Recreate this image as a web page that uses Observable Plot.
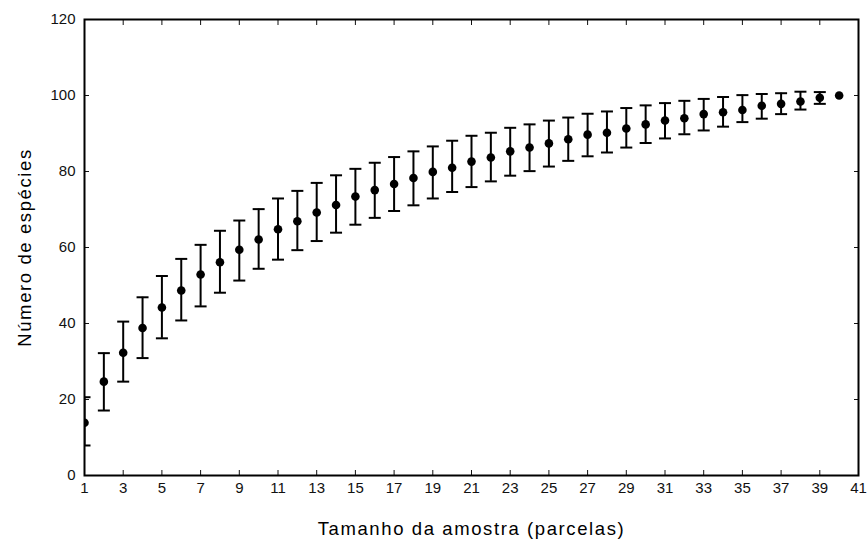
<!DOCTYPE html>
<html>
<head>
<meta charset="utf-8">
<script src="https://cdn.jsdelivr.net/npm/d3@7"></script>
<script src="https://cdn.jsdelivr.net/npm/@observablehq/plot@0.6"></script>
<style>
  body { margin: 0; background: #fff; }
  #chart svg g[aria-label="text"] text { letter-spacing: 1.6px; }
</style>
</head>
<body>
<div id="chart"></div>
<script>
// Sample size (number of plots)
const sampleSize = [1,2,3,4,5,6,7,8,9,10,11,12,13,14,15,16,17,18,19,20,
                    21,22,23,24,25,26,27,28,29,30,31,32,33,34,35,36,37,38,39,40];
// Mean number of species
const meanSpecies = [13.9,24.7,32.3,38.8,44.2,48.7,52.9,56.1,59.4,62.1,
                     64.8,66.9,69.2,71.2,73.4,75.1,76.7,78.3,79.9,81.0,
                     82.6,83.7,85.3,86.3,87.4,88.5,89.7,90.2,91.3,92.4,
                     93.4,94.0,95.1,95.6,96.2,97.3,97.8,98.4,99.4,100];
// Upper and lower error limits
const upperSpecies = [20.6,32.2,40.5,46.9,52.5,57.0,60.7,64.4,67.1,70.1,
                      72.9,74.9,77.0,79.0,80.7,82.3,83.8,85.3,86.6,88.1,
                      89.4,90.2,91.5,92.4,93.4,94.2,95.2,95.8,96.7,97.4,
                      98.0,98.6,99.1,99.6,100.1,100.4,100.6,101.0,100.9,100];
const lowerSpecies = [7.9,17.1,24.7,30.9,36.1,40.8,44.5,48.1,51.3,54.4,
                      56.8,59.3,61.7,63.9,66.0,67.8,69.6,71.1,72.9,74.6,
                      75.9,77.4,78.9,80.1,81.3,82.8,84.0,85.0,86.3,87.5,
                      88.7,89.8,90.8,91.8,93.0,93.9,95.1,96.3,97.8,100];
// Tick values
const xTicks = [1,3,5,7,9,11,13,15,17,19,21,23,25,27,29,31,33,35,37,39,41];
const yTicks = [0,20,40,60,80,100,120];
const xTitle = "Tamanho da amostra (parcelas)";
const yTitle = "Número de espécies";

const data = sampleSize.map((x, i) => ({
  x, mean: meanSpecies[i], hi: upperSpecies[i], lo: lowerSpecies[i]
}));
const bars = data.filter(d => d.hi !== d.lo);

const capSymbol = {
  draw(ctx, size) {
    const r = Math.sqrt(size / Math.PI);
    ctx.moveTo(-r, 0);
    ctx.lineTo(r, 0);
  }
};

const chart = Plot.plot({
  width: 868,
  height: 543,
  marginLeft: 84,
  marginRight: 10,
  marginTop: 19,
  marginBottom: 68,
  style: { fontFamily: "'Liberation Sans', Arial, sans-serif", fontSize: "15px", color: "#111", background: "#fff" },
  x: { domain: [1, 41] },
  y: { domain: [0, 120] },
  marks: [
    Plot.axisX({ ticks: xTicks, tickSize: -5, tickPadding: 12, label: null, tickFormat: d => String(d) }),
    Plot.axisX({ anchor: "top", ticks: xTicks, tickSize: -5, label: null, tickFormat: () => "" }),
    Plot.axisY({ ticks: yTicks, tickSize: -5, tickPadding: 14, label: null, tickFormat: d => String(d) }),
    Plot.axisY({ anchor: "right", ticks: yTicks, tickSize: -5, label: null, tickFormat: () => "" }),
    Plot.frame({ stroke: "#000", strokeWidth: 2 }),
    Plot.ruleX(bars, { x: "x", y1: "lo", y2: "hi", stroke: "#000", strokeWidth: 2, clip: true }),
    Plot.dot(bars, { x: "x", y: "lo", symbol: capSymbol, r: 6, stroke: "#000", strokeWidth: 2, clip: true }),
    Plot.dot(bars, { x: "x", y: "hi", symbol: capSymbol, r: 6, stroke: "#000", strokeWidth: 2, clip: true }),
    Plot.dot(data, { x: "x", y: "mean", r: 4.3, fill: "#000", stroke: null, clip: true }),
    Plot.text([xTitle], { frameAnchor: "bottom", dy: 59, fontSize: 18.5, fill: "#000", textAnchor: "middle" }),
    Plot.text([yTitle], { frameAnchor: "left", dx: -59, rotate: -90, fontSize: 18.5, fill: "#000", textAnchor: "middle" })
  ]
});
document.getElementById("chart").appendChild(chart);
</script>
</body>
</html>
